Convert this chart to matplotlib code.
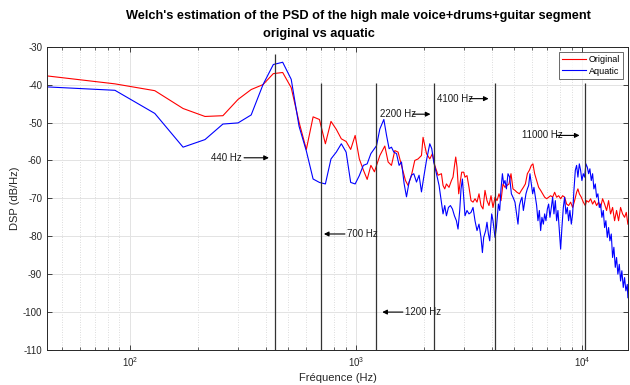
import matplotlib
matplotlib.use("Agg")
import matplotlib.pyplot as plt
from matplotlib import font_manager
from matplotlib.ticker import LogLocator, NullFormatter, MultipleLocator

# ---------------- data ----------------
orig_freq = [43, 86, 129, 172, 215, 258, 301, 344, 388, 431, 474, 517, 560, 603, 646, 689,
             732, 775, 818, 861, 904, 947, 991, 1034, 1077, 1120, 1163, 1206, 1274, 1340,
             1386, 1434, 1484, 1534, 1588, 1654, 1698, 1758, 1818, 1880, 1946, 1978, 2048,
             2118, 2176, 2228, 2304, 2385, 2424, 2466, 2509, 2576, 2640, 2683, 2730, 2758,
             2795, 2843, 2893, 2931, 2991, 3031, 3093, 3157, 3222, 3289, 3356, 3425, 3495,
             3567, 3640, 3715, 3791, 3869, 3949, 4030, 4113, 4198, 4284, 4372, 4461, 4553,
             4647, 4742, 4840, 4939, 5040, 5144, 5272, 5380, 5490, 5603, 5717, 5834, 5953,
             6051, 6157, 6283, 6413, 6545, 6679, 6817, 6957, 7100, 7246, 7395, 7547, 7701,
             7860, 8021, 8185, 8354, 8526, 8700, 8879, 9062, 9247, 9437, 9563, 9701, 9899,
             10102, 10309, 10447, 10662, 10880, 11105, 11332, 11564, 11803, 12045, 12292,
             12546, 12803, 13066, 13334, 13610, 13889, 14172, 14465, 14762, 15064, 15376,
             15644, 15900]
orig_db = [-37.7, -39.8, -41.6, -46.3, -48.4, -48.2, -43.9, -41.3, -40.0, -37.1, -36.8, -40.8,
           -49.9, -57.1, -48.5, -49.2, -55.6, -49.7, -51.8, -54.3, -55.0, -57.1, -53.4, -59.6,
           -62.5, -65.0, -61.3, -63.0, -58.7, -56.2, -60.4, -61.3, -57.4, -57.8, -61.3, -65.3,
           -66.6, -63.9, -60.0, -59.6, -58.7, -53.9, -58.2, -59.6, -58.2, -61.3, -63.9, -63.5,
           -66.6, -67.5, -66.2, -67.1, -65.3, -64.4, -60.9, -59.1, -61.8, -68.8, -65.3, -63.1,
           -63.1, -64.4, -64.0, -67.1, -70.6, -71.0, -70.1, -71.0, -68.8, -71.9, -72.8, -67.9,
           -70.6, -71.9, -69.3, -72.4, -69.7, -70.6, -68.8, -70.6, -66.2, -67.1, -66.6, -66.2,
           -63.5, -67.5, -67.9, -68.4, -68.8, -67.9, -67.1, -66.2, -63.5, -62.6, -61.3, -60.9,
           -63.5, -65.3, -67.1, -67.9, -68.8, -69.7, -70.1, -69.7, -69.3, -69.7, -68.4, -69.7,
           -69.3, -70.1, -69.3, -69.7, -71.5, -71.9, -71.0, -72.4, -70.6, -68.4, -67.5, -68.8,
           -69.7, -71.0, -71.9, -70.6, -71.0, -70.1, -71.5, -70.6, -71.9, -71.0, -72.4, -70.1,
           -71.5, -73.2, -70.6, -74.1, -72.4, -75.9, -73.2, -75.9, -72.4, -74.1, -75.0, -73.7,
           -76.8]

aqua_freq = [43, 86, 129, 172, 215, 258, 301, 344, 388, 431, 474, 517, 560, 603, 646, 689,
             732, 775, 818, 861, 904, 947, 991, 1034, 1077, 1120, 1163, 1206, 1232, 1274,
             1327, 1364, 1400, 1434, 1469, 1510, 1550, 1588, 1631, 1671, 1716, 1758, 1800,
             1850, 1899, 1946, 1992, 2048, 2118, 2161, 2205, 2267, 2328, 2385, 2424, 2466,
             2509, 2561, 2613, 2667, 2722, 2777, 2823, 2872, 2911, 2952, 2991, 3031, 3093,
             3157, 3222, 3289, 3356, 3425, 3495, 3567, 3618, 3666, 3741, 3791, 3846, 3897,
             3977, 4030, 4113, 4172, 4258, 4315, 4372, 4435, 4493, 4553, 4619, 4694, 4775,
             4859, 4939, 5040, 5113, 5197, 5272, 5342, 5413, 5490, 5564, 5636, 5717, 5793,
             5870, 5953, 6033, 6113, 6201, 6283, 6368, 6459, 6545, 6631, 6727, 6817, 6908,
             7007, 7100, 7194, 7297, 7395, 7493, 7600, 7701, 7804, 7916, 8021, 8127, 8244,
             8354, 8465, 8587, 8700, 8817, 8942, 9062, 9182, 9314, 9437, 9563, 9701, 9829,
             9959, 10102, 10237, 10373, 10522, 10662, 10803, 10957, 11105, 11251, 11413,
             11564, 11719, 11888, 12045, 12205, 12380, 12546, 12712, 12895, 13066, 13242,
             13428, 13610, 13790, 13988, 14172, 14362, 14569, 14762, 14957, 15171, 15376,
             15580, 15804, 15900]
aqua_db = [-40.6, -41.5, -47.6, -56.5, -54.5, -50.4, -50.1, -48.0, -40.0, -34.7, -34.1, -38.6,
           -51.0, -57.5, -64.9, -65.8, -66.2, -59.6, -57.8, -55.6, -57.8, -65.8, -66.2, -64.0,
           -61.3, -60.9, -58.2, -56.9, -56.1, -51.7, -49.2, -53.4, -56.9, -56.5, -57.8, -58.2,
           -61.3, -60.4, -66.1, -69.6, -65.7, -63.9, -63.5, -65.7, -63.9, -68.3, -64.4, -60.0,
           -55.6, -56.9, -60.4, -63.5, -66.6, -71.0, -74.1, -71.9, -74.6, -72.4, -71.9, -72.8,
           -74.6, -75.9, -78.1, -73.2, -67.5, -64.9, -69.7, -74.6, -73.2, -74.1, -73.7, -72.4,
           -75.9, -78.5, -76.8, -80.3, -84.3, -80.3, -78.5, -76.3, -79.4, -81.2, -74.1, -75.9,
           -80.3, -77.7, -71.5, -73.2, -67.5, -63.5, -66.2, -65.3, -67.5, -63.5, -64.4, -68.8,
           -69.7, -71.0, -73.7, -76.8, -71.9, -70.6, -69.7, -73.2, -71.0, -68.8, -67.5, -66.6,
           -63.5, -66.2, -68.8, -67.1, -69.7, -71.9, -75.9, -73.2, -78.5, -75.0, -76.8, -74.1,
           -75.9, -72.8, -71.5, -75.0, -72.4, -69.7, -74.1, -70.6, -75.9, -73.2, -78.5, -83.4,
           -77.7, -72.4, -69.7, -74.1, -72.4, -75.9, -73.2, -76.8, -74.1, -67.9, -62.6, -61.3,
           -64.4, -60.9, -62.6, -65.3, -63.5, -64.4, -60.9, -61.8, -63.5, -62.2, -65.3, -63.5,
           -67.5, -66.2, -69.7, -68.8, -72.4, -71.5, -75.0, -73.2, -77.7, -75.9, -80.3, -77.7,
           -81.2, -79.4, -85.6, -82.9, -88.2, -85.6, -90.0, -87.4, -91.8, -89.1, -93.5, -90.9,
           -94.4, -92.7, -96.2]

marker_freqs = [440, 700, 1230, 2200, 4100, 10300]
marker_tops = [-32, -39.5, -39.5, -39.5, -39.5, -39.5]
marker_labels = ["440 Hz", "700 Hz", "1200 Hz", "2200 Hz", "4100 Hz", "11000 Hz"]
series_labels = ["Original", "Aquatic"]
title_lines = ["Welch's estimation of the PSD of the high male voice+drums+guitar segment",
               "original vs aquatic"]

# ---------------- fonts ----------------
avail = {f.name for f in font_manager.fontManager.ttflist}
fam = "Liberation Sans Narrow" if "Liberation Sans Narrow" in avail else "Liberation Sans"
plt.rcParams["font.family"] = [fam, "DejaVu Sans"]
plt.rcParams["mathtext.fontset"] = "custom"
plt.rcParams["mathtext.rm"] = fam
plt.rcParams["axes.unicode_minus"] = False

# ---------------- figure ----------------
fig = plt.figure(figsize=(6.3, 3.85), dpi=100)
ax = fig.add_axes([0.0746, 0.0909, 0.9230, 0.7878])

ax.plot(orig_freq, orig_db, color="#ff0000", lw=0.8, label=series_labels[0])
ax.plot(aqua_freq, aqua_db, color="#0000ff", lw=0.8, label=series_labels[1])

ax.vlines(marker_freqs, -110, marker_tops, colors="#333333", lw=0.9, zorder=3)

ax.set_xscale("log")
ax.set_xlim(43.07, 16000)
ax.set_ylim(-110, -30)
ax.yaxis.set_major_locator(MultipleLocator(10))
ax.xaxis.set_major_locator(LogLocator(base=10, numticks=10))
ax.xaxis.set_minor_locator(LogLocator(base=10, subs=range(2, 10), numticks=20))
ax.xaxis.set_minor_formatter(NullFormatter())

ax.grid(True, which="major", color="#e3e3e3", lw=0.7)
ax.grid(True, which="minor", axis="x", color="#d0d0d0", lw=0.6, ls=(0, (1, 2)))
ax.set_axisbelow(True)

ax.tick_params(which="both", direction="in", top=True, right=True, colors="#262626",
               labelsize=7)
ax.tick_params(which="major", length=3.5, width=0.6)
ax.tick_params(which="minor", length=2, width=0.5)
for s in ax.spines.values():
    s.set_color("#262626")
    s.set_linewidth(0.7)

ax.set_xlabel("Fréquence (Hz)", fontsize=8, color="#262626", labelpad=3)
ax.set_ylabel("DSP (dB/Hz)", fontsize=8, color="#262626", labelpad=2)

# annotations (label, text pos, arrow tail, arrow head, y, alignment)
ann = [
    (marker_labels[0], 313, 320, 412, -59.3, "right"),
    (marker_labels[1], 910, 893, 721, -79.4, "left"),
    (marker_labels[2], 1643, 1611, 1306, -100.0, "left"),
    (marker_labels[3], 1270, 1781, 2133, -47.8, "left"),
    (marker_labels[4], 2286, 3181, 3855, -43.7, "left"),
    (marker_labels[5], 5395, 7702, 9726, -53.4, "left"),
]
for lab, tx, t0, t1, y, ha in ann:
    ax.text(tx, y, lab, fontsize=7, ha=ha, va="center", color="#1a1a1a")
    ax.annotate("", xy=(t1, y), xytext=(t0, y),
                arrowprops=dict(arrowstyle="-|>", color="k", lw=0.8,
                                mutation_scale=7, shrinkA=0, shrinkB=0))

leg = ax.legend(loc="upper right", fontsize=6.5, frameon=True, fancybox=False,
                edgecolor="#262626", borderpad=0.35, handlelength=2.6,
                handletextpad=0.3, labelspacing=0.25, borderaxespad=0.6)
leg.get_frame().set_linewidth(0.6)

fig.text(358 / 630, 1 - 16 / 385, title_lines[0], ha="center", va="center",
         fontsize=9.2, fontweight="bold", color="#000000")
fig.text(319 / 630, 1 - 34 / 385, title_lines[1], ha="center", va="center",
         fontsize=9.2, fontweight="bold", color="#000000")

fig.savefig("out.png", dpi=100, facecolor="white")
